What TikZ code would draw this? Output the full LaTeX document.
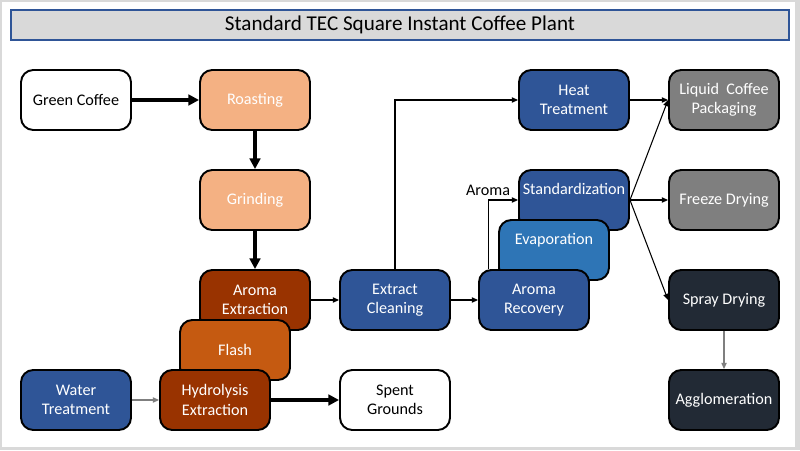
\documentclass[tikz,border=0pt]{standalone}
\usepackage{fontspec}
\setmainfont{Carlito}
\usepackage{xcolor}
\usetikzlibrary{positioning, arrows.meta}

\definecolor{peach}{HTML}{F4B183}
\definecolor{rust}{HTML}{993300}
\definecolor{burnt}{HTML}{C55A11}
\definecolor{navy}{HTML}{2F5597}
\definecolor{midblue}{HTML}{2E75B6}
\definecolor{slate}{HTML}{222A35}
\definecolor{midgray}{HTML}{7F7F7F}
\definecolor{framegray}{HTML}{D9D9D9}

\begin{document}
\begin{tikzpicture}[
    stepbox/.style={draw=black, line width=1.1pt, rounded corners=7pt, minimum width=2.2cm, minimum height=1.2cm, inner xsep=1.5pt, align=center, font=\fontsize{9.2}{11}\selectfont, text=white},
    plainbox/.style={stepbox, fill=white, text=black},
    roastbox/.style={stepbox, fill=peach},
    extbox/.style={stepbox, fill=rust},
    flashbox/.style={stepbox, fill=burnt},
    bluebox/.style={stepbox, fill=navy},
    evapbox/.style={stepbox, fill=midblue},
    graybox/.style={stepbox, fill=midgray},
    darkbox/.style={stepbox, fill=slate},
    raised/.style={text depth=0.45cm},
    bigarr/.style={-{Triangle[length=6pt, width=6pt]}, line width=2pt},
    thinarr/.style={-{Triangle[length=3.5pt, width=3pt]}, line width=0.6pt}
]

% ---- Frame and title ----
\fill[framegray] (0,0) rectangle (16,9);
\fill[white] (0.04,0.06) rectangle (15.9,8.96);
\node[draw=navy, line width=0.6pt, fill=framegray, minimum width=15.56cm, minimum height=0.6cm, font=\fontsize{12}{14}\selectfont] (title) at (8.0,8.5) {Standard TEC Square Instant Coffee Plant};

% ---- Roasting line (left) ----
\node[plainbox] (green) at (1.52,7.0) {Green Coffee};
\node[roastbox] (roast) at (5.10,7.0) {Roasting};
\node[roastbox] (grind) at (5.10,5.0) {Grinding};
\node[extbox]   (aromaext) at (5.10,3.0) {Aroma\\Extraction};
\node[flashbox] (flash) at (4.70,2.0) {Flash};
\node[extbox]   (hydro) at (4.30,1.0) {Hydrolysis\\Extraction};
\node[bluebox]  (water) at (1.52,1.0) {Water\\Treatment};
\node[plainbox] (spent) at (7.90,1.0) {Spent\\Grounds};

% ---- Extract line (middle) ----
\node[bluebox]  (clean) at (7.90,3.0) {Extract\\Cleaning};
\node[bluebox, raised]  (stand) at (11.48,5.0) {Standardization};
\node[evapbox, raised]  (evap) at (11.08,4.0) {Evaporation};
\node[bluebox]  (recov) at (10.68,3.0) {Aroma\\Recovery};
\node[bluebox]  (heat) at (11.48,7.0) {Heat\\Treatment};

% ---- Products (right) ----
\node[graybox]  (liquid) at (14.48,7.0) {Liquid~~Coffee\\Packaging};
\node[graybox]  (freeze) at (14.48,5.0) {Freeze Drying};
\node[darkbox]  (spray) at (14.48,3.0) {Spray Drying};
\node[darkbox]  (agglo) at (14.48,1.0) {Agglomeration};

% ---- Thick arrows ----
\draw[bigarr] (green) -- (roast);
\draw[bigarr] (roast) -- (grind);
\draw[bigarr] (grind) -- (aromaext);
\draw[bigarr] (hydro) -- (spent);

% ---- Thin arrows ----
\draw[thinarr, draw=midgray] (water) -- (hydro);
\draw[thinarr] (aromaext) -- (clean);
\draw[thinarr] (clean) -- (recov);
\draw[thinarr] (clean.north) |- (heat.west);
\draw[thinarr] ([xshift=0.2cm]recov.north west) |- node[pos=0.5, above, inner sep=2pt, font=\fontsize{9.2}{11}\selectfont] (aromalbl) {Aroma} (stand.west);
\draw[thinarr] (heat) -- (liquid);
\draw[thinarr] (stand.east) -- (liquid.west);
\draw[thinarr] (stand) -- (freeze);
\draw[thinarr] (stand.east) -- (spray.west);
\draw[thinarr, draw=midgray] (spray) -- (agglo);

\end{tikzpicture}
\end{document}
